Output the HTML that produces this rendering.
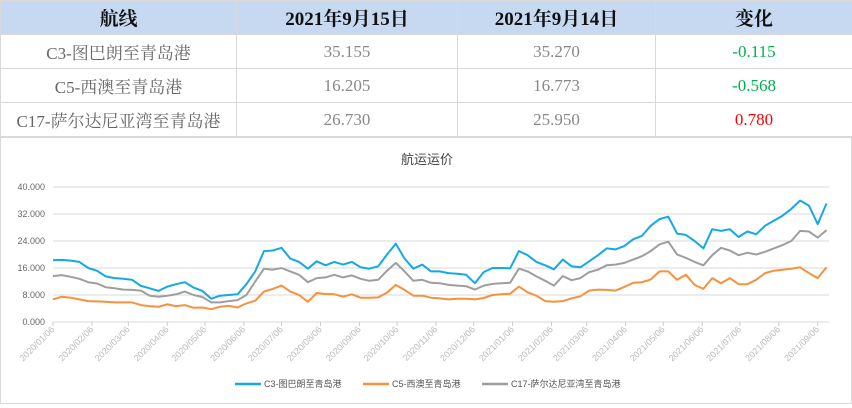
<!DOCTYPE html>
<html><head><meta charset="utf-8"><style>
body{margin:0;width:852px;height:405px;background:#fff;overflow:hidden;font-family:"Liberation Serif","Noto Serif CJK SC",serif;}
table{position:absolute;left:0;top:0;border-collapse:collapse;width:852px;table-layout:fixed;}
td,th{border:1px solid #d9d9d9;text-align:center;height:33px;padding:0;}
th{background:#c6d9f0;font-size:19px;font-weight:bold;color:#111;}
td{font-size:17px;color:#888;}
td.n{color:#666;}
.g{color:#00b050!important}.r{color:#ff0000!important}
#chart{position:absolute;left:0;top:137px;width:850px;height:265px;border:1px solid #d9d9d9;}
</style></head><body>
<table>
<colgroup><col style="width:236px"><col style="width:221px"><col style="width:198px"><col style="width:197px"></colgroup>
<tr><th>航线</th><th>2021年9月15日</th><th>2021年9月14日</th><th>变化</th></tr>
<tr><td class="n">C3-图巴朗至青岛港</td><td>35.155</td><td>35.270</td><td class="g">-0.115</td></tr>
<tr><td class="n">C5-西澳至青岛港</td><td>16.205</td><td>16.773</td><td class="g">-0.568</td></tr>
<tr><td class="n">C17-萨尔达尼亚湾至青岛港</td><td>26.730</td><td>25.950</td><td class="r">0.780</td></tr>
</table>
<div id="chart">
<svg id="svg" width="850" height="265" xmlns="http://www.w3.org/2000/svg" font-family="Liberation Sans, Noto Sans CJK SC, sans-serif"></svg>
</div>
<script>
const monthLabels=["2020/01/06","2020/02/06","2020/03/06","2020/04/06","2020/05/06","2020/06/06","2020/07/06","2020/08/06","2020/09/06","2020/10/06","2020/11/06","2020/12/06","2021/01/06","2021/02/06","2021/03/06","2021/04/06","2021/05/06","2021/06/06","2021/07/06","2021/08/06","2021/09/06"];
const yTicks=[0,8000,16000,24000,32000,40000];
const yTickLabels=["0.000","8.000","16.000","24.000","32.000","40.000"];
const c3=[18300,18400,18200,17800,16000,15200,13500,13000,12800,12500,10700,10000,9200,10500,11200,11800,10200,9200,6900,7800,8000,8200,11200,15000,21000,21200,22000,18800,17800,15800,18000,16800,17800,17000,17800,16200,15800,16500,20000,23200,18800,15800,17000,15000,15000,14500,14300,14000,11500,14800,16000,16000,15900,21000,19800,17800,16800,15600,18500,16500,16200,18000,19800,21800,21500,22500,24500,25500,28500,30500,31200,26200,25800,24000,21800,27500,27000,27500,25200,26800,26000,28500,30000,31500,33500,36000,34500,29000,35100];
const c5=[6700,7500,7200,6700,6200,6100,6000,5800,5800,5800,5000,4700,4500,5200,4700,5000,4200,4300,3800,4500,4800,4300,5500,6300,9000,9800,10800,9000,8000,6000,8600,8300,8200,7500,8200,7200,7200,7300,8700,11000,9500,7800,7800,7200,7000,6700,6900,6900,6700,7100,8000,8200,8400,10500,8800,7800,6200,6000,6200,7000,7600,9300,9600,9500,9300,10400,11600,11800,12600,15000,15000,12500,14000,11000,9800,13000,11500,13000,11200,11200,12500,14500,15200,15500,15800,16200,14500,13000,16200];
const c17=[13600,13900,13400,12800,11800,11400,10300,10000,9600,9500,9300,7800,7500,7800,8200,9000,8000,7400,5800,5800,6200,6500,8000,12000,15800,15500,16000,15000,14000,11800,13000,13200,14000,13200,13800,12800,12200,12500,15200,17500,15000,12200,12500,11600,11500,11000,10800,10600,9600,10800,11300,11500,11600,15800,15000,13500,12200,10800,13600,12400,13000,14800,15500,16800,17000,17500,18500,19500,21000,23000,23800,20000,19000,17800,16800,19800,22000,21200,19800,20500,20000,20800,21800,22800,24000,27000,26800,25000,27200];
const seriesNames=["C3-图巴朗至青岛港","C5-西澳至青岛港","C17-萨尔达尼亚湾至青岛港"];
const colors=["#14a9e6","#f7913d","#9e9e9e"];
const NS="http://www.w3.org/2000/svg";
const svg=document.getElementById('svg');
const X0=52,X1=828,Y0=184,Y1=49;
const pxDay=(X1-X0)/618;
const xDay=d=>X0+d*pxDay;
const xWeek=i=>xDay(i*7);
const y=v=>Y0-(v/40000)*(Y0-Y1);
function mk(t,a){const e=document.createElementNS(NS,t);for(const k in a)e.setAttribute(k,a[k]);svg.appendChild(e);return e;}
let t=mk('text',{x:426,y:26,'font-size':13,fill:'#444','text-anchor':'middle'});t.textContent="航运运价";


yTicks.forEach((v,i)=>{
 const l=mk('line',{x1:X0,x2:X1,y1:y(v),y2:y(v),stroke:'#d9d9d9','stroke-width':1});
 
 
 const tx=mk('text',{x:44,y:y(v)+3,'font-size':9,fill:'#666','text-anchor':'end'});tx.textContent=yTickLabels[i];
 
 
});
const base=Date.UTC(2020,0,6);
monthLabels.forEach(s=>{
 const p=s.split('/');const d=(Date.UTC(+p[0],+p[1]-1,+p[2])-base)/864e5;
 const x=xDay(d);
 const tk=mk('line',{x1:x,x2:x,y1:Y0,y2:Y0+4,stroke:'#ccc'});
 
 
 const tx=mk('text',{x:x+2,y:Y0+8,'font-size':9,fill:'#bbb','text-anchor':'end',transform:`rotate(-45 ${x+2} ${Y0+8})`});tx.textContent=s;
 
 
});
[c3,c5,c17].forEach((arr,si)=>{
 const pts=arr.map((v,i)=>xWeek(Math.min(i*7,618)/7).toFixed(1)+','+y(v).toFixed(1)).join(' ');
 const pl=mk('polyline',{points:pts,fill:'none',stroke:colors[si],'stroke-width':2,'stroke-linejoin':'round'});
 
 
});
const legX=[234,362,481];
seriesNames.forEach((n,i)=>{
 const l=mk('line',{x1:legX[i],x2:legX[i]+26,y1:246,y2:246,stroke:colors[i],'stroke-width':2.5});
 
 
 const tx=mk('text',{x:legX[i]+29,y:249,'font-size':9,fill:'#555'});tx.textContent=n;
 
 
});
</script>
</body></html>
